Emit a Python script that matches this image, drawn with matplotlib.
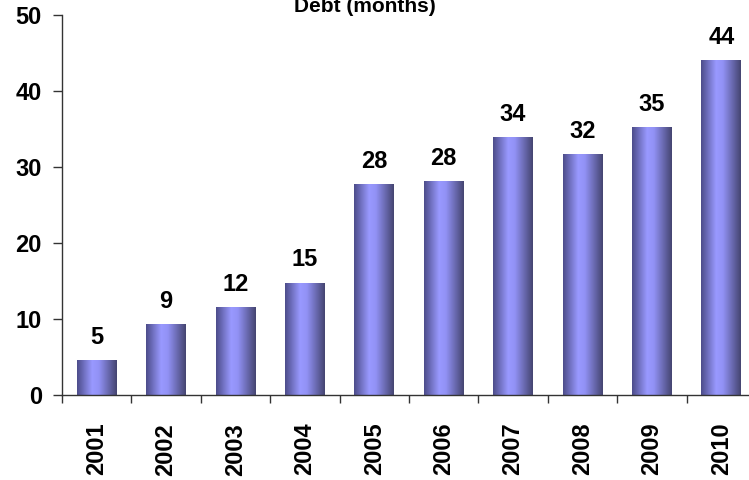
import numpy as np
import matplotlib
matplotlib.use("Agg")
import matplotlib.pyplot as plt
from matplotlib.colors import LinearSegmentedColormap

years = ["2001", "2002", "2003", "2004", "2005", "2006", "2007", "2008", "2009", "2010"]
debt_months = [4.6, 9.4, 11.6, 14.8, 27.7, 28.1, 34.0, 31.75, 35.3, 44.1]
y_ticks = [0, 10, 20, 30, 40, 50]
title = "Debt (months)"

plt.rcParams["font.family"] = ["Liberation Sans", "DejaVu Sans"]
plt.rcParams["font.weight"] = "bold"

W, H = 749, 480
fig = plt.figure(figsize=(W / 100, H / 100), dpi=100)
ax = fig.add_axes([62 / W, 85 / H, 694 / W, 380 / H])

# cylinder-like horizontal shading for each bar
shade = LinearSegmentedColormap.from_list(
    "cyl",
    [(0.0, (0.30, 0.30, 0.54)),
     (0.38, (0.60, 0.60, 1.00)),
     (0.55, (0.57, 0.57, 0.96)),
     (1.0, (0.27, 0.27, 0.44))],
)
grad = np.linspace(0, 1, 256).reshape(1, -1)

x = np.arange(len(years))
bar_w = 0.575
bars = ax.bar(x, debt_months, width=bar_w, color="none", edgecolor="none", zorder=2)
for b, v in zip(bars, debt_months):
    x0, w, h = b.get_x(), b.get_width(), b.get_height()
    im = ax.imshow(grad, cmap=shade, aspect="auto",
                   extent=[x0, x0 + w, 0, h], zorder=2, interpolation="bilinear")
    im.set_clip_path(b)
    ax.text(x0 + w / 2, h + 1.45, f"{v:.0f}", ha="center", va="bottom",
            fontsize=17, fontweight="bold", color="black")

ax.set_xlim(-0.5, len(years) - 0.5)
ax.set_ylim(0, 50)

ax.spines["top"].set_visible(False)
ax.spines["right"].set_visible(False)
for s in ("left", "bottom"):
    ax.spines[s].set_color("#333333")
    ax.spines[s].set_linewidth(1.0)

ax.set_yticks(y_ticks)
ax.set_yticklabels([str(t) for t in y_ticks], fontsize=17, fontweight="bold")
ax.tick_params(axis="y", direction="out", length=6.5, width=1.0, color="#333333", pad=8)

# ticks at category boundaries, labels at category centres
ax.set_xticks(np.arange(len(years) + 1) - 0.5)
ax.set_xticklabels([])
ax.tick_params(axis="x", which="major", direction="out", length=6, width=1.0, color="#333333")
ax.set_xticks(x, minor=True)
ax.set_xticklabels(years, minor=True, rotation=90, fontsize=17, fontweight="bold")
ax.tick_params(axis="x", which="minor", length=0, pad=20)

fig.text(365 / W, 1 - 12 / H, title, ha="center", va="baseline",
         fontsize=15, fontweight="bold")

fig.savefig("out.png", dpi=100)
